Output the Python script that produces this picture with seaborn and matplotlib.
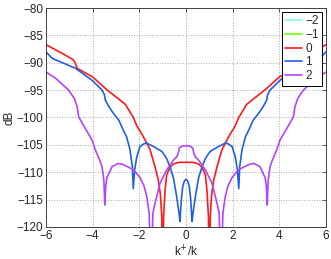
import numpy as np
import pandas as pd
import matplotlib
matplotlib.use("Agg")
import matplotlib.pyplot as plt
import seaborn as sns

# values (curves are symmetric about k+/k = 0)
x_red = [-6.0, -5.3, -4.85, -4.75, -4.67, -4.0, -3.4, -2.6, -2.26, -2.1, -1.83, -1.54,
         -1.33, -1.19, -1.1, -1.04, -1.0, -0.96, -0.9, -0.83, -0.7, -0.54, -0.3, 0.0,
         0.3, 0.54, 0.7, 0.83, 0.9, 0.96, 1.0, 1.04, 1.1, 1.19, 1.33, 1.54, 1.83, 2.1,
         2.26, 2.6, 3.4, 4.0, 4.67, 4.75, 4.85, 5.3, 6.0]
y_red = [-86.7, -88.3, -89.4, -90.0, -91.0, -92.6, -94.9, -97.6, -100.0, -101.6, -103.5, -105.9,
         -109.0, -111.4, -114.0, -118.0, -130.0, -118.0, -113.5, -110.5, -109.2, -108.5, -108.2, -108.2,
         -108.2, -108.5, -109.2, -110.5, -113.5, -118.0, -130.0, -118.0, -114.0, -111.4, -109.0, -105.9,
         -103.5, -101.6, -100.0, -97.6, -94.9, -92.6, -91.0, -90.0, -89.4, -88.3, -86.7]

x_blue = [-6.0, -5.74, -4.74, -4.03, -3.6, -3.5, -3.46, -3.31, -3.12, -2.88, -2.69, -2.55,
          -2.4, -2.3, -2.26, -2.2, -2.11, -1.97, -1.8, -1.68, -1.4, -1.04, -0.97, -0.83,
          -0.69, -0.54, -0.4, -0.3, -0.26, -0.2, -0.14, -0.07, 0.0,
          0.07, 0.14, 0.2, 0.26, 0.3, 0.4, 0.54, 0.69, 0.83, 0.97, 1.04, 1.4, 1.68, 1.8,
          1.97, 2.11, 2.2, 2.26, 2.3, 2.4, 2.55, 2.69, 2.88, 3.12, 3.31, 3.46, 3.5, 3.6,
          4.03, 4.74, 5.74, 6.0]
y_blue = [-88.0, -89.2, -91.0, -93.2, -95.0, -95.8, -96.8, -98.0, -99.2, -100.5, -102.3, -103.5,
          -105.9, -109.0, -113.0, -109.5, -107.2, -105.3, -104.8, -104.7, -105.3, -106.2, -106.6, -107.5,
          -109.0, -111.0, -114.5, -117.5, -119.0, -115.0, -112.6, -111.6, -111.3,
          -111.6, -112.6, -115.0, -119.0, -117.5, -114.5, -111.0, -109.0, -107.5, -106.6, -106.2, -105.3,
          -104.7, -104.8, -105.3, -107.2, -109.5, -113.0, -109.0, -105.9, -103.5, -102.3, -100.5, -99.2,
          -98.0, -96.8, -95.8, -95.0, -93.2, -91.0, -89.2, -88.0]

x_purple = [-6.0, -5.6, -5.03, -4.79, -4.67, -4.6, -4.32, -4.03, -3.89, -3.7, -3.6, -3.52,
            -3.48, -3.44, -3.39, -3.17, -2.91, -2.7, -2.46, -2.24, -1.97, -1.8, -1.68, -1.58,
            -1.5, -1.42, -1.33, -1.11, -0.83, -0.54, -0.4, -0.33, -0.29, -0.15, 0.0,
            0.15, 0.29, 0.33, 0.4, 0.54, 0.83, 1.11, 1.33, 1.42, 1.5, 1.58, 1.68, 1.8,
            1.97, 2.24, 2.46, 2.7, 2.91, 3.17, 3.39, 3.44, 3.48, 3.52, 3.6, 3.7, 3.89,
            4.03, 4.32, 4.6, 4.67, 4.79, 5.03, 5.6, 6.0]
y_purple = [-91.7, -92.8, -95.0, -96.5, -98.0, -99.9, -102.0, -104.1, -105.9, -107.8, -109.0, -111.5,
            -116.0, -112.5, -111.0, -109.0, -108.4, -108.6, -109.1, -109.6, -111.0, -112.5, -114.5, -117.5,
            -130.0, -117.5, -115.7, -112.0, -109.6, -107.8, -107.2, -106.5, -105.6, -105.2, -105.2,
            -105.2, -105.6, -106.5, -107.2, -107.8, -109.6, -112.0, -115.7, -117.5, -130.0, -117.5,
            -114.5, -112.5, -111.0, -109.6, -109.1, -108.6, -108.4, -109.0, -111.0, -112.5, -116.0,
            -111.5, -109.0, -107.8, -105.9, -104.1, -102.0, -99.9, -98.0, -96.5, -95.0, -92.8, -91.7]

# orders -2 and -1 are not visible in the shown range, only in the legend
orders = ["\u22122", "\u22121", "0", "1", "2"]
colors = ["#80ffd8", "#70ff00", "#ff1a1a", "#2060e0", "#b444ff"]

df = pd.concat([
    pd.DataFrame({"k": x_red, "dB": y_red, "order": "0"}),
    pd.DataFrame({"k": x_blue, "dB": y_blue, "order": "1"}),
    pd.DataFrame({"k": x_purple, "dB": y_purple, "order": "2"}),
], ignore_index=True)

sns.set_style("white")
plt.rcParams["font.family"] = ["Liberation Sans", "DejaVu Sans"]
plt.rcParams["font.size"] = 8.5

fig = plt.figure(figsize=(3.31, 2.59), dpi=100)
ax = fig.add_axes([0.139, 0.124, 0.846, 0.845])

# empty handles for the hidden orders
for name, col in zip(orders[:2], colors[:2]):
    ax.plot([], [], color=col, lw=1.2, label=name)
sns.lineplot(data=df, x="k", y="dB", hue="order", hue_order=orders[2:],
             palette=colors[2:], sort=False, estimator=None, lw=1.2, ax=ax)

ax.set_xlim(-6, 6)
ax.set_ylim(-120, -80)
ax.set_xticks(np.arange(-6, 7, 2))
ax.set_yticks(np.arange(-120, -79, 5))
ax.grid(True, linestyle=":", color="#a8a8a8", linewidth=0.7)
for s in ax.spines.values():
    s.set_color("#404040")
    s.set_linewidth(0.7)
ax.tick_params(direction="in", length=3, width=0.6, color="#404040", labelsize=8.5,
               top=True, right=True, pad=2)
ax.set_xlabel("k$^{+}$/k", fontsize=8.5, labelpad=2)
ax.set_ylabel("dB", fontsize=8.5, labelpad=1)

leg = ax.legend(loc="upper right", fontsize=8.5, frameon=True, fancybox=False, framealpha=1,
                edgecolor="black", borderaxespad=0.3, handlelength=1.4, labelspacing=0.15,
                handletextpad=0.3, borderpad=0.3)
leg.get_frame().set_linewidth(0.7)

fig.savefig("out.png", dpi=100)
